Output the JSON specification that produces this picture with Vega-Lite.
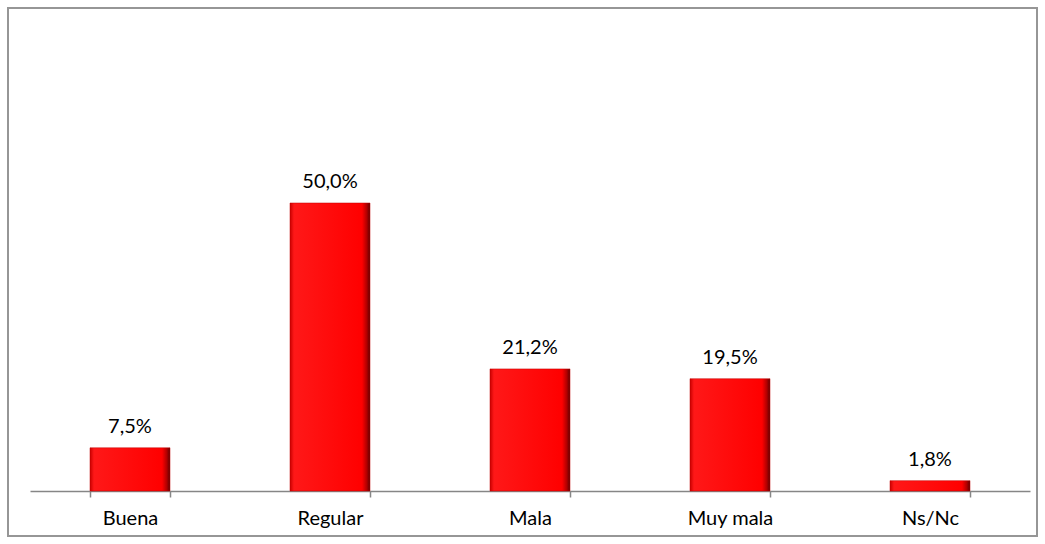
{
  "$schema": "https://vega.github.io/schema/vega-lite/v6.json",
  "autosize": {"type": "none"},
  "width": 1029,
  "height": 528,
  "padding": {"left": 8, "top": 8, "right": 8, "bottom": 8},
  "background": "white",
  "config": {
    "view": {"stroke": "#969696", "strokeWidth": 2},
    "locale": {"number": {"decimal": ",", "thousands": ".", "grouping": [3], "currency": ["", " €"]}},
    "font": "Lato"
  },
  "data": {"values": [
    {"categoria": "Buena", "valor": 0.075},
    {"categoria": "Regular", "valor": 0.5},
    {"categoria": "Mala", "valor": 0.212},
    {"categoria": "Muy mala", "valor": 0.195},
    {"categoria": "Ns/Nc", "valor": 0.018}
  ]},
  "encoding": {
    "x": {
      "field": "categoria", "type": "nominal", "sort": null,
      "scale": {"range": [22, 1022], "paddingInner": 0.6, "paddingOuter": 0.3},
      "axis": {
        "title": null, "offset": -45, "labelAngle": 0,
        "domainColor": "#868686", "domainWidth": 1.5,
        "tickColor": "#868686", "tickWidth": 1.5, "tickSize": 6, "tickBand": "extent",
        "labelFont": "Lato", "labelFontSize": 20, "labelColor": "#000000", "labelPadding": 11
      }
    },
    "y": {
      "field": "valor", "type": "quantitative",
      "scale": {"domain": [-0.078125, 0.8385], "nice": false, "zero": false},
      "axis": null
    }
  },
  "layer": [
    {
      "mark": {
        "type": "bar",
        "color": {
          "gradient": "linear", "x1": 0, "y1": 0, "x2": 1, "y2": 0,
          "stops": [
            {"offset": 0, "color": "#C80000"},
            {"offset": 0.05, "color": "#FF1818"},
            {"offset": 0.9, "color": "#FF0000"},
            {"offset": 0.96, "color": "#B00000"},
            {"offset": 1, "color": "#600000"}
          ]
        },
        "stroke": "#C00000", "strokeWidth": 0.5
      }
    },
    {
      "mark": {"type": "text", "baseline": "alphabetic", "dy": -15, "fontSize": 20, "font": "Lato", "color": "#000000"},
      "encoding": {"text": {"field": "valor", "type": "quantitative", "format": ".1%"}}
    }
  ]
}
